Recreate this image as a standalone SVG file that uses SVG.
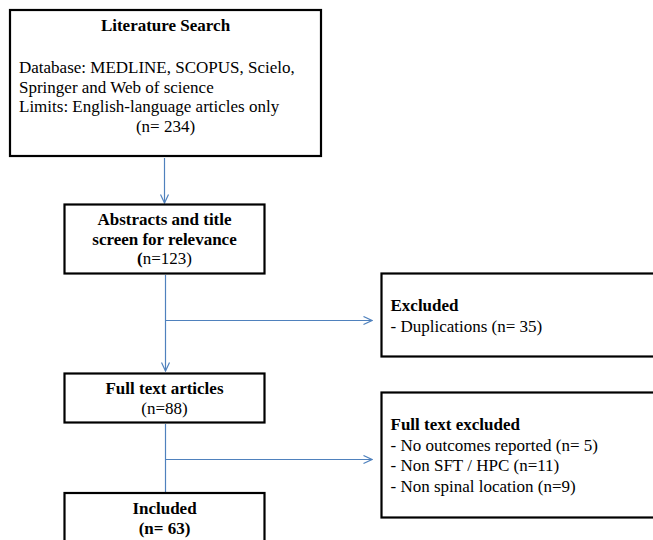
<svg xmlns="http://www.w3.org/2000/svg" width="653" height="540" viewBox="0 0 653 540">
<defs>
<marker id="arr" viewBox="0 0 10 10" refX="9.5" refY="5" markerWidth="10" markerHeight="10" markerUnits="userSpaceOnUse" orient="auto">
<path d="M1,1 L9.5,5 L1,9" fill="none" stroke="#4F81BD" stroke-width="1.2"/>
</marker>
<style>
.box{fill:#fff;stroke:#000;stroke-width:2.2}
.t{font-family:"Liberation Serif","Times New Roman",serif;font-size:17px;fill:#000}
.b{font-weight:bold}
.c{text-anchor:middle}
.ln{fill:none;stroke:#4F81BD;stroke-width:1.2}
</style>
</defs>
<rect width="653" height="540" fill="#fff"/>
<g id="connectors">
<line class="ln" x1="164.5" y1="158" x2="164.5" y2="203" marker-end="url(#arr)"/>
<line class="ln" x1="165.5" y1="275" x2="165.5" y2="371" marker-end="url(#arr)"/>
<line class="ln" x1="165.5" y1="320.5" x2="372" y2="320.5" marker-end="url(#arr)"/>
<line class="ln" x1="165.5" y1="424" x2="165.5" y2="492"/>
<line class="ln" x1="165.5" y1="459.5" x2="372" y2="459.5" marker-end="url(#arr)"/>
</g>
<g id="literature-search">
<rect class="box" x="10" y="10" width="311" height="146"/>
<text class="t b c" x="165.5" y="31">Literature Search</text>
<text class="t" x="19" y="72.5">Database: MEDLINE, SCOPUS, Scielo,</text>
<text class="t" x="19" y="92.5">Springer and Web of science</text>
<text class="t" x="19" y="112">Limits: English-language articles only</text>
<text class="t c" x="165.5" y="131.5">(n= 234)</text>
</g>
<g id="abstracts">
<rect class="box" x="64.5" y="204.5" width="200" height="69"/>
<text class="t b c" x="164.5" y="225">Abstracts and title</text>
<text class="t b c" x="164.5" y="245">screen for relevance</text>
<text class="t c" x="164.5" y="264"><tspan class="b">(</tspan>n=123)</text>
</g>
<g id="excluded">
<rect class="box" x="381.5" y="273.5" width="290" height="83"/>
<text class="t b" x="390.5" y="310.5">Excluded</text>
<text class="t" x="390.5" y="331.5">- Duplications (n= 35)</text>
</g>
<g id="full-text">
<rect class="box" x="64.5" y="373.5" width="200" height="49"/>
<text class="t b c" x="164.5" y="393.5">Full text articles</text>
<text class="t c" x="164.5" y="413.5">(n=88)</text>
</g>
<g id="full-text-excluded">
<rect class="box" x="381.5" y="392.5" width="290" height="125"/>
<text class="t b" x="390.5" y="430">Full text excluded</text>
<text class="t" x="390.5" y="450.5">- No outcomes reported (n= 5)</text>
<text class="t" x="390.5" y="471">- Non SFT / HPC (n=11)</text>
<text class="t" x="390.5" y="491.5">- Non spinal location (n=9)</text>
</g>
<g id="included">
<rect class="box" x="64.5" y="493" width="200" height="80"/>
<text class="t b c" x="164.5" y="514">Included</text>
<text class="t b c" x="164.5" y="533.5">(n= 63)</text>
</g>
</svg>
